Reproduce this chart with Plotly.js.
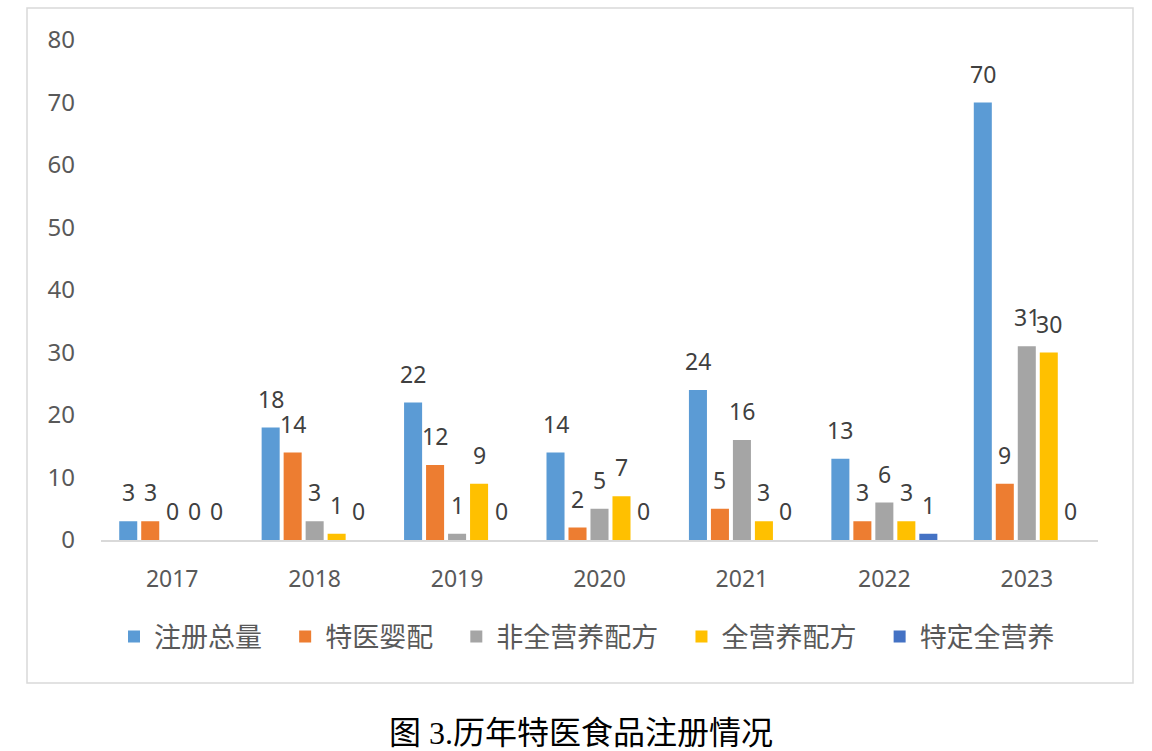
<!DOCTYPE html>
<html>
<head>
<meta charset="utf-8">
<script src="https://cdn.plot.ly/plotly-3.0.1.min.js"></script>
<style>
html,body{margin:0;padding:0;background:#fff;}
#chart{width:1152px;height:751px;}
</style>
</head>
<body>
<div id="chart"></div>
<script>
const years = ['2017','2018','2019','2020','2021','2022','2023'];
const seriesNames = ['注册总量','特医婴配','非全营养配方','全营养配方','特定全营养'];
const totalReg = [3,18,22,14,24,13,70];
const infantFormula = [3,14,12,2,5,3,9];
const nonFullNutrition = [0,3,1,5,16,6,31];
const fullNutrition = [0,1,9,7,3,3,30];
const specificFull = [0,0,0,0,0,1,0];
const yTicks = [0,10,20,30,40,50,60,70,80];
const captionText = '图 3.历年特医食品注册情况';

const allSeries = [totalReg, infantFormula, nonFullNutrition, fullNutrition, specificFull];
const colors = ['#5B9BD5','#ED7D31','#A5A5A5','#FFC000','#4472C4'];

const numFont = 'Noto Sans, Open Sans, sans-serif';
const cjkFont = 'Noto Sans CJK SC, sans-serif';
const pad = '\u00a0\u00a0\u00a0';

const traces = allSeries.map((vals, j) => ({
  type: 'bar',
  name: seriesNames[j] + (j < allSeries.length - 1 ? pad : ''),
  x: years,
  y: vals,
  marker: {color: colors[j]},
  hoverinfo: 'skip'
}));

const nS = allSeries.length;
const bargap = 0.228;
const slot = (1 - bargap) / nS;
const annotations = [];
allSeries.forEach((vals, j) => {
  vals.forEach((v, i) => {
    annotations.push({
      x: i + (j - (nS - 1) / 2) * slot,
      y: v,
      xref: 'x', yref: 'y',
      text: String(v),
      showarrow: false,
      yanchor: 'middle',
      yshift: 29,
      font: {family: numFont, size: 23, color: '#404040'}
    });
  });
});
annotations.push({
  xref: 'paper', yref: 'paper',
  x: (581 - 101) / 997, y: (540 - 733) / 500,
  xanchor: 'center', yanchor: 'middle',
  text: captionText, showarrow: false,
  font: {family: 'Liberation Serif, Noto Sans CJK SC, serif', size: 32, color: '#000000'}
});

const layout = {
  width: 1152, height: 751,
  margin: {l: 101, r: 54, t: 40, b: 211},
  paper_bgcolor: '#ffffff', plot_bgcolor: '#ffffff',
  barmode: 'group',
  bargap: bargap,
  bargroupgap: 0.18,
  showlegend: true,
  legend: {
    orientation: 'h', x: (114 - 101) / 997, xanchor: 'left',
    y: (540 - 637) / 500, yanchor: 'middle',
    font: {family: cjkFont, size: 27, color: '#595959'},
    itemwidth: 30,
    itemclick: false, itemdoubleclick: false
  },
  xaxis: {
    type: 'category',
    range: [-0.5, 6.5],
    showline: true, linecolor: '#D9D9D9', linewidth: 1.5,
    showgrid: false, zeroline: false, ticks: '',
    tickfont: {family: numFont, size: 23, color: '#595959'},
    ticklabelstandoff: 18
  },
  yaxis: {
    range: [0, 80],
    tickvals: yTicks,
    showgrid: false, zeroline: false, showline: false, ticks: '',
    tickfont: {family: numFont, size: 24, color: '#595959'},
    ticklabelstandoff: 25
  },
  shapes: [{
    type: 'rect', xref: 'paper', yref: 'paper',
    x0: (27 - 101) / 997, x1: (1133 - 101) / 997,
    y0: (540 - 683) / 500, y1: (540 - 8) / 500,
    line: {color: '#D9D9D9', width: 1.5}, fillcolor: 'rgba(0,0,0,0)', layer: 'below'
  }],
  annotations: annotations
};

Plotly.newPlot('chart', traces, layout, {displayModeBar: false, staticPlot: true});
</script>
</body>
</html>
